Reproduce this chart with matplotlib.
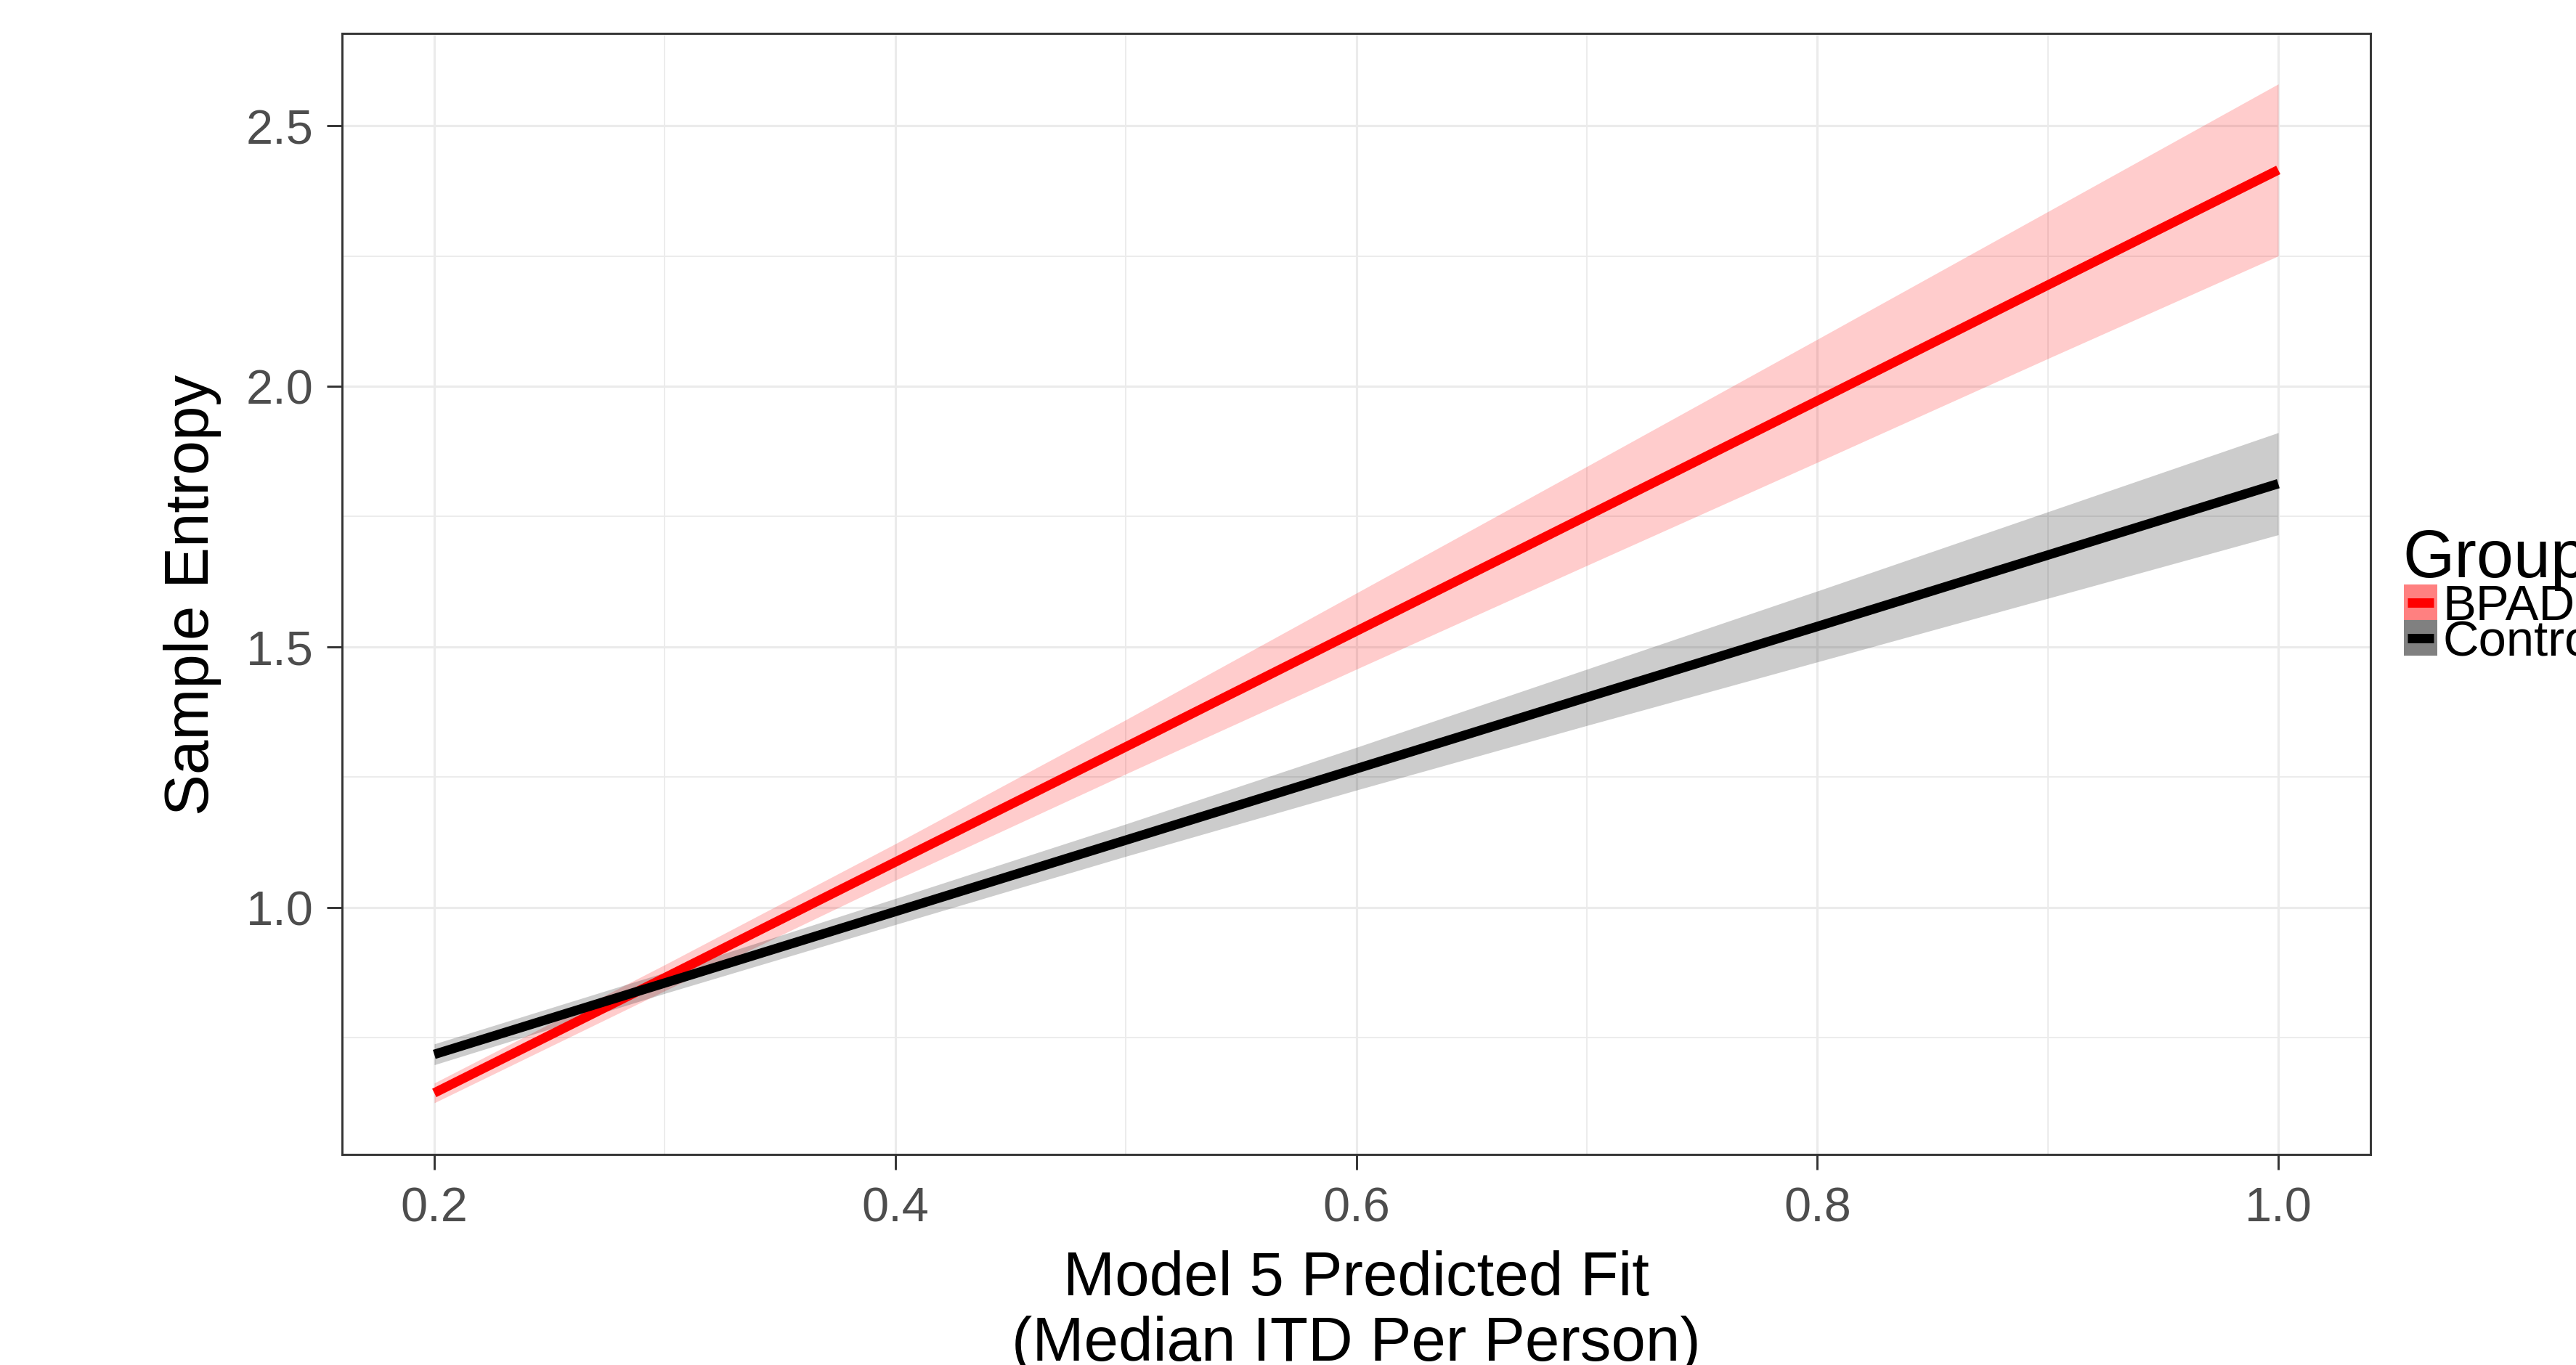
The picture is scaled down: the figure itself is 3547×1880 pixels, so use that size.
import matplotlib
matplotlib.use("Agg")
import matplotlib.pyplot as plt
from matplotlib.patches import Rectangle
from matplotlib.lines import Line2D

plt.rcParams['font.family'] = ['Liberation Sans', 'DejaVu Sans']

# ---- data ----
x_vals = [0.2, 0.3, 0.4, 0.5, 0.6, 0.7, 0.8, 0.9, 1.0]

bpad_fit = [0.644, 0.865, 1.087, 1.308, 1.530, 1.751, 1.972, 2.194, 2.415]
bpad_lo = [0.625, 0.840, 1.052, 1.256, 1.457, 1.656, 1.854, 2.053, 2.250]
bpad_hi = [0.663, 0.890, 1.122, 1.360, 1.603, 1.846, 2.090, 2.335, 2.580]

ctrl_fit = [0.718, 0.855, 0.992, 1.129, 1.266, 1.403, 1.539, 1.676, 1.813]
ctrl_lo = [0.698, 0.835, 0.967, 1.098, 1.225, 1.349, 1.471, 1.593, 1.715]
ctrl_hi = [0.738, 0.875, 1.017, 1.160, 1.307, 1.457, 1.607, 1.759, 1.911]

groups = ["BPAD", "Control"]
group_colors = ["#FF0000", "#000000"]

x_ticks = [0.2, 0.4, 0.6, 0.8, 1.0]
x_tick_labels = ["0.2", "0.4", "0.6", "0.8", "1.0"]
x_minor = [0.3, 0.5, 0.7, 0.9]
y_ticks = [1.0, 1.5, 2.0, 2.5]
y_tick_labels = ["1.0", "1.5", "2.0", "2.5"]
y_minor = [0.75, 1.25, 1.75, 2.25]

x_title = "Model 5 Predicted Fit\n(Median ITD Per Person)"
y_title = "Sample Entropy"
legend_title = "Group"

# ---- figure ----
W, H = 3547, 1881
DPI = 300
fig = plt.figure(figsize=(W / DPI, H / DPI), dpi=DPI)
L, R, T, B = 471, 3264, 47, 1591
ax = fig.add_axes([L / W, 1 - B / H, (R - L) / W, (B - T) / H])

ax.set_xlim(0.16, 1.04)
ax.set_ylim(0.526, 2.677)

grid_col = "#EBEBEB"
ax.set_xticks(x_ticks)
ax.set_xticklabels(x_tick_labels)
ax.set_yticks(y_ticks)
ax.set_yticklabels(y_tick_labels)
ax.set_xticks(x_minor, minor=True)
ax.set_yticks(y_minor, minor=True)
ax.grid(True, which="major", color=grid_col, linewidth=0.75, zorder=0)
ax.grid(True, which="minor", color=grid_col, linewidth=0.45, zorder=0)
ax.set_axisbelow(True)
ax.tick_params(which="minor", length=0)
ax.tick_params(which="major", length=5, width=0.7, color="#333333",
               labelsize=16, labelcolor="#4D4D4D")
ax.tick_params(axis="x", which="major", pad=5.5)
ax.tick_params(axis="y", which="major", pad=4.5)
for s in ax.spines.values():
    s.set_color("#333333")
    s.set_linewidth(0.7)

series = [(bpad_fit, bpad_lo, bpad_hi), (ctrl_fit, ctrl_lo, ctrl_hi)]
for (fit, lo, hi), col in zip(series, group_colors):
    ax.fill_between(x_vals, lo, hi, color=col, alpha=0.2, linewidth=0, zorder=2)
    ax.plot(x_vals, fit, color=col, linewidth=3.1, solid_capstyle="butt", zorder=3)

ax.set_xlabel(x_title, fontsize=20.5, color="black", labelpad=6, linespacing=1.16)
ax.set_ylabel(y_title, fontsize=20.5, color="black", labelpad=8)

# ---- legend (drawn in figure pixel coordinates) ----
def fx(px):
    return px / W

def fy(py):
    return 1 - py / H

fig.text(fx(3308), fy(795), legend_title, fontsize=22, color="black",
         ha="left", va="baseline")
key_x0, key_w, key_h = 3310, 46, 49
key_fills = ["#FF8080", "#808080"]
for i, (lab, col, kf) in enumerate(zip(groups, group_colors, key_fills)):
    top = 806 + i * key_h
    fig.patches.append(Rectangle((fx(key_x0), fy(top + key_h)), key_w / W, key_h / H,
                                 transform=fig.transFigure, facecolor=kf,
                                 edgecolor="none"))
    yc = fy(top + key_h / 2)
    fig.lines.append(Line2D([fx(key_x0 + 5), fx(key_x0 + key_w - 5)], [yc, yc],
                            transform=fig.transFigure, color=col, linewidth=3.1,
                            solid_capstyle="butt"))
    fig.text(fx(3363), fy(top + key_h - 1), lab, fontsize=16.5, color="black",
             ha="left", va="baseline")

fig.savefig("out.png", dpi=DPI, facecolor="white")
